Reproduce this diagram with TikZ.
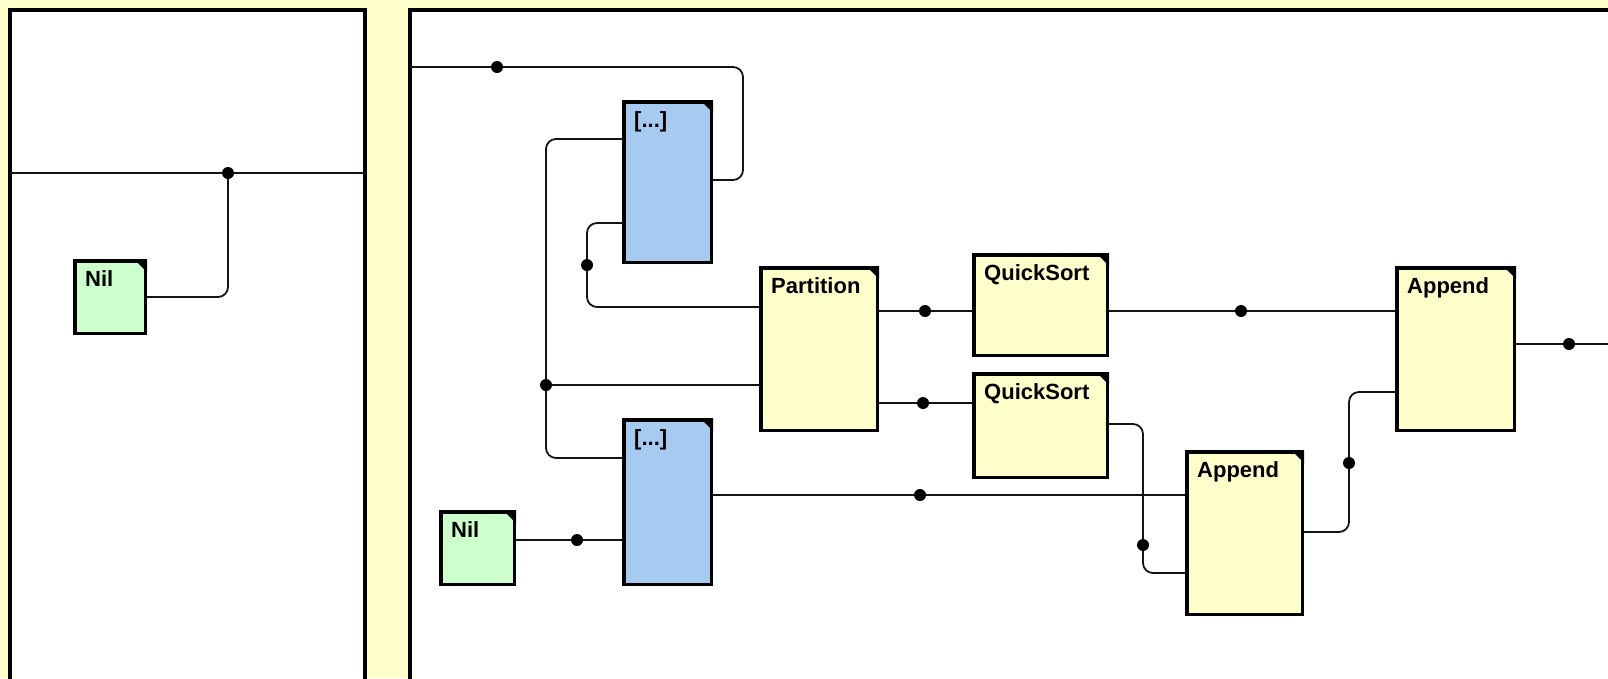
\documentclass[tikz,border=0pt]{standalone}
\usepackage{fontspec}
\setmainfont{Liberation Sans}
\definecolor{canvasbg}{RGB}{255,255,204}
\definecolor{nilgreen}{RGB}{204,255,204}
\definecolor{listblue}{RGB}{166,202,240}
\definecolor{fnyellow}{RGB}{255,255,204}
\definecolor{wirecol}{RGB}{20,20,20}
\tikzset{
  blockbox/.style={draw=black, line width=3.5pt, inner sep=0pt, anchor=center},
  nilbox/.style={blockbox, fill=nilgreen},
  listbox/.style={blockbox, fill=listblue},
  fnbox/.style={blockbox, fill=fnyellow},
  wire/.style={draw=wirecol, line width=1.8pt, rounded corners=10pt},
  panelframe/.style={fill=white, draw=black, line width=4pt},
  lbl/.style={font=\bfseries\fontsize{22}{26}\selectfont, inner sep=0pt, anchor=base west},
}
% block with its title and the folded corner mark
\newcommand\blockat[6]{%
  \node[#1, minimum width=#4, minimum height=#5] (#2) at (#3) {};
  \fill[black] (#2.north east) -- ++(-13,0) -- ++(13,13) -- cycle;
  \node[lbl] (#2-t) at ([shift={(12,27)}]#2.north west) {#6};
}
\begin{document}
\begin{tikzpicture}[x=1pt,y=-1pt]
\useasboundingbox (0,0) rectangle (1608,678);
\clip (0,0) rectangle (1608,678);
\fill[canvasbg] (0,0) rectangle (1608,678);

% the two worksheet panels
\draw[panelframe] (10,10) rectangle (365,730);
\draw[panelframe] (410,10) rectangle (1680,730);

% blocks
\blockat{nilbox}{nilL}{110,297}{70.5pt}{72.5pt}{Nil}
\blockat{listbox}{blue1}{667.5,182}{87.5pt}{160.5pt}{[...]}
\blockat{listbox}{blue2}{667.5,502}{87.5pt}{164.5pt}{[...]}
\blockat{nilbox}{nil2}{477.5,548}{73.5pt}{72.5pt}{Nil}
\blockat{fnbox}{part}{819,349}{116.5pt}{162.5pt}{Partition}
\blockat{fnbox}{qs1}{1040.5,305}{133.5pt}{100.5pt}{QuickSort}
\blockat{fnbox}{qs2}{1040.5,425.5}{133.5pt}{103.5pt}{QuickSort}
\blockat{fnbox}{app1}{1244.5,533}{115.5pt}{162.5pt}{Append}
\blockat{fnbox}{app2}{1455.5,349}{117.5pt}{162.5pt}{Append}

% junction points
\coordinate (jL) at (228,173);
\coordinate (jTop) at (497,67);
\coordinate (jA) at (546,385);
\coordinate (jB) at (587,265);
\coordinate (jNil) at (577,540);
\coordinate (jP1) at (925,311);
\coordinate (jP2) at (923,403);
\coordinate (jL2) at (920,495);
\coordinate (jQ1) at (1241,311);
\coordinate (jQ2) at (1143,545);
\coordinate (jR) at (1349,463);
\coordinate (jOut) at (1569,344);
% panel edges and bends
\coordinate (lpW) at (10,173);
\coordinate (lpE) at (365,173);
\coordinate (rpW) at (410,67);
\coordinate (rpE) at (1620,344);
\coordinate (loopTR) at (743,67);

% wires
\draw[wire] (lpW) -- (lpE);
\draw[wire] (nilL.east |- 0,297) -| (jL);
\draw[wire] (rpW) -- (jTop) -- (loopTR) |- (blue1.east |- 0,180);
\draw[wire] (blue1.west |- 0,139) -| (jA) |- (blue2.west |- 0,458);
\draw[wire] (jA) -- (part.west |- jA);
\draw[wire] (blue1.west |- 0,223) -| (jB) |- (part.west |- 0,307);
\draw[wire] (nil2.east |- jNil) -- (blue2.west |- jNil);
\draw[wire] (blue2.east |- jL2) -- (app1.west |- jL2);
\draw[wire] (part.east |- jP1) -- (qs1.west |- jP1);
\draw[wire] (part.east |- jP2) -- (qs2.west |- jP2);
\draw[wire] (qs1.east |- jQ1) -- (app2.west |- jQ1);
\draw[wire] (qs2.east |- 0,424) -| (jQ2) |- (app1.west |- 0,573);
\draw[wire] (app1.east |- 0,532) -| (jR) |- (app2.west |- 0,392);
\draw[wire] (app2.east |- jOut) -- (rpE);

% junction dots
\foreach \j in {jL,jTop,jA,jB,jNil,jP1,jP2,jL2,jQ1,jQ2,jR,jOut}
  \fill[black] (\j) circle (6);
\end{tikzpicture}
\end{document}
